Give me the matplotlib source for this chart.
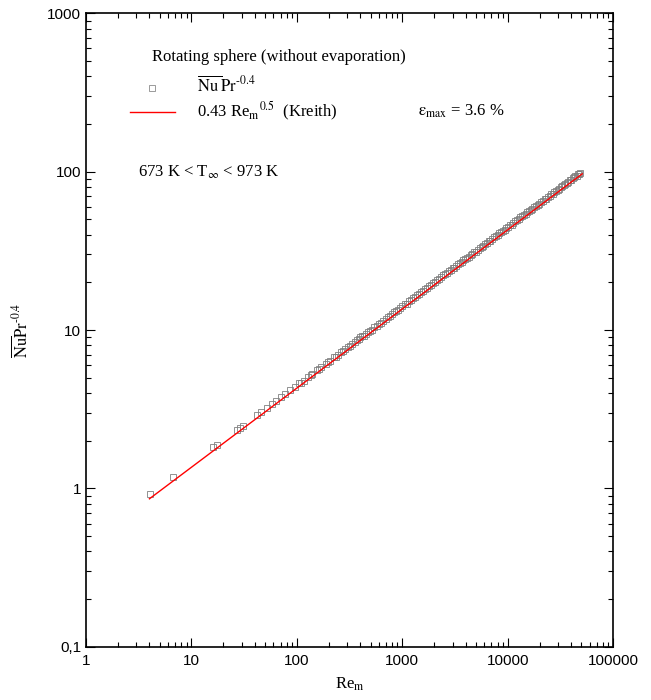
import matplotlib.pyplot as plt
from matplotlib.lines import Line2D
from matplotlib.ticker import FixedLocator, FixedFormatter, LogLocator, NullFormatter

plt.rcParams['font.family'] = 'Liberation Serif'
plt.rcParams['mathtext.fontset'] = 'stix'

# Re_m values of the measured points
re_m = [
    4.05, 6.7, 16.2, 17.5, 27, 29, 31, 42, 46, 52, 58, 64, 71, 78, 86, 95,
    105, 116, 128, 140, 155, 170, 188, 205, 225, 245, 265, 285, 305, 330,
    355, 385, 415, 450, 490, 540, 600, 660, 730, 800, 880, 960, 1050, 1150,
    1260, 1380, 1500, 1640, 1800, 1960, 2150, 2350, 2550, 2780, 3000, 3250,
    3500, 3800, 4100, 4450, 4800, 5200, 5650, 6100, 6600, 7100, 7700, 8300,
    9000, 9700, 10500, 11300, 12200, 13200, 14200, 15300, 16500, 17800,
    19200, 20700, 22300, 24000, 25800, 27700, 29700, 31800, 34000, 36300,
    38700, 41200, 43700, 46300, 48500,
]
# Nu Pr^-0.4 of the measured points
nu_pr = [
    0.92, 1.18, 1.82, 1.87, 2.34, 2.42, 2.48, 2.90, 3.05, 3.22, 3.42, 3.56,
    3.78, 3.95, 4.16, 4.35, 4.60, 4.80, 5.07, 5.28, 5.58, 5.82, 6.14, 6.40,
    6.72, 6.99, 7.29, 7.54, 7.82, 8.11, 8.44, 8.77, 9.12, 9.47, 9.91, 10.38,
    10.97, 11.48, 12.10, 12.64, 13.28, 13.85, 14.50, 15.16, 15.89, 16.60,
    17.33, 18.10, 18.98, 19.80, 20.75, 21.68, 22.60, 23.58, 24.50, 25.50,
    26.47, 27.56, 28.65, 29.83, 31.00, 32.25, 33.62, 34.93, 36.33, 37.70,
    39.24, 40.75, 42.43, 44.05, 45.83, 47.55, 49.40, 51.38, 53.30, 55.32,
    57.45, 59.67, 61.97, 64.35, 66.79, 69.28, 71.84, 74.43, 77.08, 79.76,
    82.47, 85.21, 87.98, 90.78, 93.50, 96.23, 98.49,
]
# second run of measurements (interleaved)
re_m_b = [
    110, 135, 162, 196, 235, 275, 318, 370, 400, 432, 470, 515, 570, 630,
    695, 765, 840, 920, 1000, 1100, 1200, 1320, 1440, 1570, 1720, 1880,
    2050, 2250, 2450, 2660, 2890, 3120, 3380, 3650, 3950, 4280, 4620, 5000,
    5420, 5880, 6350, 6850, 7400, 8000, 8650, 9350, 10100, 10900, 11750,
    12700, 13700, 14750, 15900, 17150, 18500, 19950, 21500, 23150, 24900,
    26750, 28700, 30750, 32900, 35150, 37500, 39950, 42450, 45000, 47400,
]
nu_pr_b = [
    4.65, 5.20, 5.64, 6.26, 6.79, 7.42, 7.90, 8.60, 9.03, 9.21, 9.69, 10.05,
    10.68, 11.12, 11.79, 12.25, 12.96, 13.43, 14.14, 14.69, 15.49, 16.09,
    16.97, 17.55, 18.55, 19.20, 20.25, 21.01, 22.14, 22.84, 24.04, 24.74,
    26.00, 26.76, 28.11, 28.97, 30.40, 31.32, 32.92, 33.96, 35.64, 36.66,
    38.47, 39.61, 41.59, 42.83, 44.94, 46.24, 48.48, 49.91, 52.34, 53.79,
    56.39, 58.00, 60.83, 62.56, 65.57, 67.39, 70.57, 72.44, 75.76, 77.67,
    81.12, 83.04, 86.60, 88.52, 92.14, 93.96, 97.36,
]
# Kreith correlation 0.43 Re_m^0.5, end points
re_kreith = [4.0, 50800]
nu_kreith = [0.86, 96.9]

x_ticks = [1, 10, 100, 1000, 10000, 100000]
x_labels = ['1', '10', '100', '1000', '10000', '100000']
y_ticks = [0.1, 1, 10, 100, 1000]
y_labels = ['0,1', '1', '10', '100', '1000']

fig = plt.figure(figsize=(6.51, 7.0), dpi=100)
ax = fig.add_axes([0.132, 0.076, 0.810, 0.905])

marker_style = dict(linestyle='none', marker='s', markersize=5,
                    markerfacecolor='none', markeredgecolor='#808080',
                    markeredgewidth=0.6)
ax.plot(re_m, nu_pr, **marker_style)
ax.plot(re_m_b, nu_pr_b, **marker_style)
ax.plot(re_kreith, nu_kreith, color='red', linewidth=1.0)

ax.set_xscale('log')
ax.set_yscale('log')
ax.set_xlim(1, 100000)
ax.set_ylim(0.1, 1000)

ax.xaxis.set_major_locator(FixedLocator(x_ticks))
ax.xaxis.set_major_formatter(FixedFormatter(x_labels))
ax.yaxis.set_major_locator(FixedLocator(y_ticks))
ax.yaxis.set_major_formatter(FixedFormatter(y_labels))
ax.xaxis.set_minor_locator(LogLocator(base=10, subs=range(2, 10), numticks=20))
ax.yaxis.set_minor_locator(LogLocator(base=10, subs=range(2, 10), numticks=20))
ax.xaxis.set_minor_formatter(NullFormatter())
ax.yaxis.set_minor_formatter(NullFormatter())

ax.tick_params(which='both', direction='in', top=True, right=True, width=0.8)
ax.tick_params(which='major', length=6.5)
ax.tick_params(which='minor', length=3.5)
for lab in ax.get_xticklabels() + ax.get_yticklabels():
    lab.set_fontfamily('Liberation Sans')
    lab.set_fontsize(11)
ax.tick_params(axis='x', pad=5)
for sp in ax.spines.values():
    sp.set_linewidth(1.2)

ax.set_xlabel(r'Re$_{\mathrm{m}}$', fontsize=12, labelpad=6)
ax.set_ylabel(r'$\overline{\mathrm{Nu}}\mathrm{Pr}^{\text{-0.4}}$', fontsize=12, labelpad=11)

# legend-like annotations
tr = ax.transAxes
def ax_xy(px, py):
    return ((px - 86) / 527.0, (647 - py) / 634.0)

ax.text(*ax_xy(152, 57), 'Rotating sphere (without evaporation)', transform=tr,
        fontsize=12, va='center', ha='left')
mx, my = ax_xy(152, 88)
ax.add_line(Line2D([mx], [my], transform=tr, linestyle='none', marker='s',
                   markersize=4, markerfacecolor='none',
                   markeredgecolor='#8a8a8a', markeredgewidth=0.6))
ax.text(*ax_xy(197, 86), r'$\overline{\mathrm{Nu}\;}\mathrm{Pr}^{\text{-0.4}}$', transform=tr,
        fontsize=12, va='center', ha='left')
l1 = ax_xy(130, 112)
l2 = ax_xy(175, 112)
ax.add_line(Line2D([l1[0], l2[0]], [l1[1], l2[1]], transform=tr,
                   color='red', linewidth=1.0))
ax.text(*ax_xy(197, 111), r'0.43 Re$_{\mathrm{m}}$$^{0.5}$  (Kreith)', transform=tr,
        fontsize=12, va='center', ha='left')
ax.text(*ax_xy(418, 111), r'$\mathrm{\varepsilon}_{\mathrm{max}}$ = 3.6 %', transform=tr,
        fontsize=12, va='center', ha='left')
ax.text(*ax_xy(138, 172), r'673 K < T$_{\infty}$ < 973 K', transform=tr,
        fontsize=12, va='center', ha='left')

fig.savefig('out.png', dpi=100)
